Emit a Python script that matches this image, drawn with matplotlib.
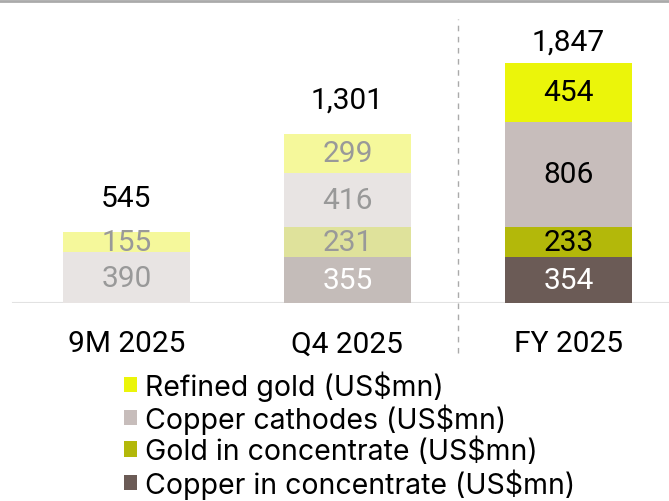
import matplotlib.pyplot as plt
from matplotlib.patches import Patch
import numpy as np

categories = ['9M 2025', 'Q4 2025', 'FY 2025']
series = ['Copper in concentrate (US$mn)', 'Gold in concentrate (US$mn)',
          'Copper cathodes (US$mn)', 'Refined gold (US$mn)']
copper_conc = [0, 355, 354]
gold_conc = [0, 231, 233]
cathodes = [390, 416, 806]
refined_gold = [155, 299, 454]
totals = ['545', '1,301', '1,847']

values = [copper_conc, gold_conc, cathodes, refined_gold]
# bright colours for FY, faded ones for the period bars
full_colors = ['#6b5b56', '#b3b80a', '#c7bdbb', '#ebf50a']
faded_colors = ['#c4bcb9', '#dfe29b', '#e8e4e3', '#f5f89b']
full_text = ['white', 'black', 'black', 'black']
faded_text = ['white', '#999999', '#999999', '#999999']

num_font = ['Roboto', 'DejaVu Sans']
leg_font = 'Inter'

fig = plt.figure(figsize=(6.69, 5.02), dpi=100)
ax = fig.add_axes([0, 198 / 502, 1, 304 / 502])
x = np.arange(len(categories))
width = 0.575
bottom = np.zeros(len(categories))
for s, vals in enumerate(values):
    for i, v in enumerate(vals):
        if v == 0:
            continue
        faded = i < 2
        col = faded_colors[s] if faded else full_colors[s]
        tcol = faded_text[s] if faded else full_text[s]
        ax.bar(x[i], v, width, bottom=bottom[i], color=col, linewidth=0)
        ax.text(x[i], bottom[i] + v / 2, str(v), ha='center', va='center',
                fontsize=21.5, color=tcol, family=num_font)
    bottom += np.array(vals)

gaps = [265, 265, 165]
for i, t in enumerate(totals):
    ax.text(x[i], bottom[i] + gaps[i], t, ha='center', va='center',
            fontsize=21.5, color='black', family=num_font)
    ax.text(x[i], -310, categories[i], ha='center', va='center',
            fontsize=21.5, color='black', family=num_font, clip_on=False)

ax.set_xlim(-0.572, 2.455)
ax.set_ylim(0, 2338)
ax.axhline(0, xmin=13 / 669, xmax=1, color='#e2e2e2', linewidth=1.5, zorder=0)
ax.plot([1.5, 1.5], [-385, 2185], color='#aaaaaa', linestyle=(0, (4, 4)),
        linewidth=1, clip_on=False)
ax.axis('off')

# grey rule along the top
fig.add_artist(plt.Line2D([0, 1], [1 - 2 / 502, 1 - 2 / 502], color='#aaaaaa',
                          linewidth=2, transform=fig.transFigure))

# legend order as in reference: refined gold, cathodes, gold conc, copper conc
leg_order = [3, 2, 1, 0]
fig.legend([Patch(facecolor=full_colors[s], edgecolor='none') for s in leg_order],
           [series[s] for s in leg_order],
           loc='upper left', bbox_to_anchor=(124 / 669, 1 - 371 / 502),
           frameon=False, prop={'family': leg_font, 'size': 20.5},
           handlelength=0.45, handleheight=0.45, handletextpad=0.3,
           labelspacing=0.1, borderaxespad=0, borderpad=0)

fig.savefig('out.png', dpi=100)
